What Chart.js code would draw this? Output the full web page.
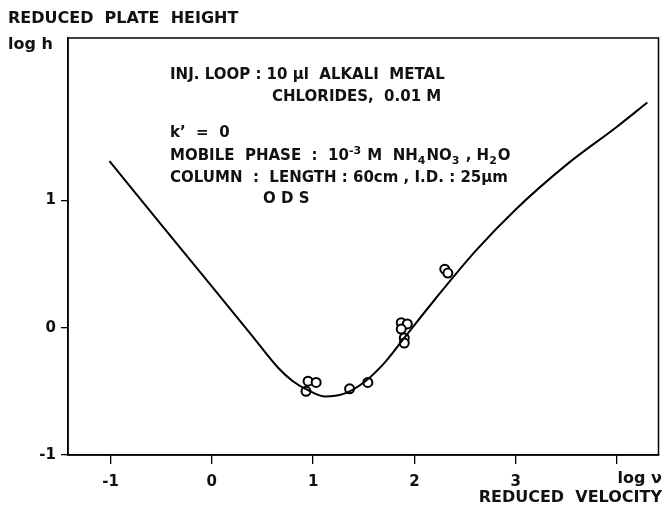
<!DOCTYPE html>
<html>
<head>
<meta charset="utf-8">
<script src="https://cdn.jsdelivr.net/npm/chart.js@4"></script>
<style>
  body { margin: 0; background: #fff; }
  #plot { display: block; }
</style>
</head>
<body>
<canvas id="plot" width="665" height="511"></canvas>
<script>
// fitted curve (log v, log h)
const curveX = [-1.01, -0.5, 0, 0.4, 0.65, 0.8, 0.95, 1.12, 1.3, 1.5, 1.7, 1.9, 2.2, 2.6, 3.0, 3.5, 4.0, 4.3];
const curveY = [1.31, 0.81, 0.325, -0.065, -0.31, -0.42, -0.49, -0.54, -0.52, -0.43, -0.28, -0.08, 0.22, 0.60, 0.93, 1.28, 1.58, 1.77];

// measured points
const pointsX = [0.95, 1.03, 0.93, 1.36, 1.54, 1.87, 1.93, 1.87, 1.90, 1.90, 2.30, 2.33];
const pointsY = [-0.42, -0.43, -0.50, -0.48, -0.43, 0.04, 0.03, -0.01, -0.08, -0.12, 0.46, 0.43];

const xTicks = [-1, 0, 1, 2, 3, 4];
const xTickLabels = ["-1", "0", "1", "2", "3", ""];
const yTicks = [-1, 0, 1];
const yTickLabels = ["-1", "0", "1"];

// note lines: pieces of [text, shift] where shift -1 = superscript, 1 = subscript
const notes = [
  [170, 75, [["INJ. LOOP : 10 \u00b5l  ALKALI  METAL", 0]]],
  [272, 97, [["CHLORIDES,  0.01 M", 0]]],
  [170, 133, [["k\u2019  =  0", 0]]],
  [170, 156, [["MOBILE  PHASE  :  10", 0], ["-3", -1], [" M  NH", 0], ["4", 1], ["NO", 0], ["3", 1], [" , H", 0], ["2", 1], ["O", 0]]],
  [170, 178, [["COLUMN  :  LENGTH : 60cm , I.D. : 25\u00b5m", 0]]],
  [263, 199, [["O D S", 0]]],
];

const FONT = "bold 15px 'DejaVu Sans'";
const SMALL = "bold 11px 'DejaVu Sans'";

const frameAndText = {
  id: "frameAndText",
  afterDraw: (chart) => {
    const { ctx, chartArea: a } = chart;
    ctx.save();
    ctx.strokeStyle = "#000";
    ctx.lineWidth = 1.5;
    ctx.strokeRect(a.left, a.top, a.right - a.left, a.bottom - a.top);

    ctx.fillStyle = "#111";
    ctx.textBaseline = "middle";
    ctx.textAlign = "left";
    notes.forEach(([x, y, parts]) => {
      let cx = x;
      parts.forEach(([t, s]) => {
        ctx.font = s === 0 ? FONT : SMALL;
        ctx.fillText(t, cx, y + s * 5);
        cx += ctx.measureText(t).width + (s === 0 ? 0 : 1);
      });
    });

    ctx.font = "bold 16px 'DejaVu Sans'";
    ctx.fillText("REDUCED  PLATE  HEIGHT", 8, 19);
    ctx.fillText("log h", 8, 45);
    ctx.textAlign = "right";
    ctx.fillText("log \u03bd", 662, 479);
    ctx.fillText("REDUCED  VELOCITY", 662, 498);
    ctx.restore();
  }
};

new Chart(document.getElementById("plot").getContext("2d"), {
  type: "scatter",
  data: {
    datasets: [
      {
        data: curveX.map((x, i) => ({ x: x, y: curveY[i] })),
        showLine: true,
        borderColor: "#000",
        borderWidth: 2,
        pointRadius: 0,
        cubicInterpolationMode: "monotone",
      },
      {
        data: pointsX.map((x, i) => ({ x: x, y: pointsY[i] })),
        pointRadius: 4.5,
        pointBorderWidth: 2,
        pointBorderColor: "#000",
        pointBackgroundColor: "#fff",
      },
    ]
  },
  options: {
    responsive: false,
    animation: false,
    layout: { padding: { top: 38, right: 4, left: 0, bottom: 0 } },
    plugins: {
      legend: { display: false },
      tooltip: { enabled: false },
    },
    scales: {
      x: {
        type: "linear",
        min: -1.42,
        max: 4.41,
        afterBuildTicks: (s) => { s.ticks = xTicks.map(v => ({ value: v })); },
        afterFit: (s) => { s.height = 56; },
        ticks: {
          color: "#111",
          font: { family: "'DejaVu Sans'", size: 15, weight: "bold" },
          padding: 9,
          maxRotation: 0,
          callback: (v) => xTickLabels[xTicks.indexOf(v)],
        },
        grid: { drawOnChartArea: false, tickLength: 9, color: "#000", lineWidth: 1.3 },
        border: { display: true, color: "#000", width: 1.5 },
      },
      y: {
        type: "linear",
        min: -1,
        max: 2.277,
        afterBuildTicks: (s) => { s.ticks = yTicks.map(v => ({ value: v })); },
        afterFit: (s) => { s.width = 68; },
        ticks: {
          color: "#111",
          font: { family: "'DejaVu Sans'", size: 15, weight: "bold" },
          padding: 5,
          callback: (v) => yTickLabels[yTicks.indexOf(v)],
        },
        grid: { drawOnChartArea: false, tickLength: 7, color: "#000", lineWidth: 1.3 },
        border: { display: true, color: "#000", width: 1.5 },
      }
    }
  },
  plugins: [frameAndText]
});
</script>
</body>
</html>
